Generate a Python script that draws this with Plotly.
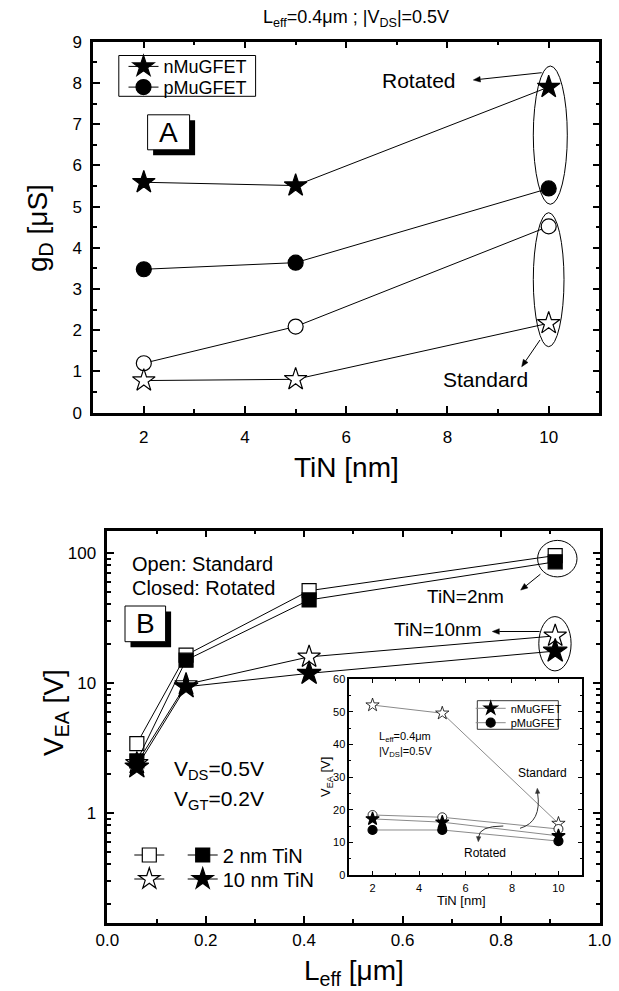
import math
import plotly.graph_objects as go

W, H = 619, 991
FONT = "Liberation Sans, Arial, Helvetica, sans-serif"


def px(x):
    return x / W


def py(y):
    return 1 - y / H


# ---------------- Panel A data (gD vs TiN) ----------------
tin = [2, 5, 10]
gd_n_rot = [5.59, 5.51, 7.90]   # nMuGFET rotated (closed star)
gd_p_rot = [3.48, 3.64, 5.44]   # pMuGFET rotated (closed circle)
gd_p_std = [1.20, 2.09, 4.52]   # pMuGFET standard (open circle)
gd_n_std = [0.78, 0.81, 2.17]   # nMuGFET standard (open star)

# ---------------- Panel B data (VEA vs Leff) ----------------
leff = [0.06, 0.16, 0.41, 0.91]
vea_2nm_std = [3.4, 16.3, 51.0, 95.0]
vea_2nm_rot = [2.5, 14.9, 43.3, 85.0]
vea_10nm_std = [2.4, 9.7, 15.8, 22.9]
vea_10nm_rot = [2.25, 9.3, 11.8, 17.5]

# ---------------- Inset data (VEA vs TiN) ----------------
tin_in = [2, 5, 10]
vin_n_std = [52.1, 49.6, 15.8]
vin_p_std = [18.4, 17.7, 14.1]
vin_n_rot = [17.2, 16.2, 12.0]
vin_p_rot = [13.8, 13.8, 10.4]

fig = go.Figure()


def tr(x, y, sym, size, filled, xa, ya, name=" ", legend="legend", showlegend=False,
       lcolor="black", lw=1, mlw=1.2):
    fig.add_trace(go.Scatter(
        x=x, y=y, mode="lines+markers", name=name, legend=legend, showlegend=showlegend,
        xaxis=xa, yaxis=ya,
        line=dict(color=lcolor, width=lw),
        marker=dict(symbol=sym, size=size, color="black" if filled else "white",
                    line=dict(color="black", width=mlw)),
    ))


# Panel A
tr(tin, gd_n_rot, "star", 17, True, "x", "y", "nMuGFET", "legend", True)
tr(tin, gd_p_rot, "circle", 15, True, "x", "y", "pMuGFET", "legend5", True)
tr(tin, gd_p_std, "circle", 15, False, "x", "y")
tr(tin, gd_n_std, "star", 17, False, "x", "y")

# Panel B
tr(leff, vea_2nm_std, "square", 14, False, "x2", "y2", " ", "legend2", True)
tr(leff, vea_10nm_std, "star", 17, False, "x2", "y2", " ", "legend6", True)
tr(leff, vea_2nm_rot, "square", 14, True, "x2", "y2", "2 nm TiN", "legend3", True)
tr(leff, vea_10nm_rot, "star", 18, True, "x2", "y2", "10 nm TiN", "legend7", True)

# Inset
GR = "#8a8a8a"
tr(tin_in, vin_n_std, "star", 10, False, "x3", "y3", lcolor=GR, mlw=0.8)
tr(tin_in, vin_p_std, "circle", 9, False, "x3", "y3", lcolor=GR, mlw=0.8)
tr(tin_in, vin_n_rot, "star", 10, True, "x3", "y3", "nMuGFET", "legend4", True, lcolor=GR)
tr(tin_in, vin_p_rot, "circle", 9, True, "x3", "y3", "pMuGFET", "legend8", True, lcolor=GR)


def axis(domain, rng, dtick, minor, anchor, lw=2.5, tl=7, mtl=4, fs=17, so=0, **kw):
    d = dict(domain=domain, range=rng, dtick=dtick, anchor=anchor,
             ticks="inside", ticklen=tl, tickwidth=lw * 0.7, tickcolor="black",
             mirror="allticks", showline=True, linewidth=lw, linecolor="black",
             showgrid=False, zeroline=False, automargin=False, ticklabelstandoff=so,
             tickfont=dict(family=FONT, size=fs, color="black"),
             minor=dict(dtick=minor, ticks="inside", ticklen=mtl, tickcolor="black",
                        tickwidth=lw * 0.6, showgrid=False))
    d.update(kw)
    return d


def leg(sym_x, row_y, fs):
    h = max(1.3 * fs, 16) + 3
    return dict(x=px(sym_x - 20), y=py(row_y - 5 - h / 2), xanchor="left", yanchor="top",
                bgcolor="rgba(0,0,0,0)", borderwidth=0,
                font=dict(family=FONT, size=fs, color="black"))


layout = dict(
    width=W, height=H,
    margin=dict(l=0, r=0, t=0, b=0, autoexpand=False),
    paper_bgcolor="white", plot_bgcolor="white",
    font=dict(family=FONT, color="black"),
    xaxis=axis([px(93.2), px(599.3)], [1, 11], 2, 1, "y", tick0=0, so=7),
    yaxis=axis([py(412.7), py(41.7)], [0, 9], 1, 0.5, "x", so=5),
    xaxis2=axis([px(107.3), px(599.5)], [0, 1], 0.2, 0.1, "y2", tick0=0, tickformat=".1f"),
    yaxis2=axis([py(922.7), py(530.7)], [-0.846, 2.169], 1, "D1", "x2", type="log", so=5),
    xaxis3=axis([px(349.3), px(581.7)], [1, 11], 2, 1, "y3", lw=1.5, tl=4, mtl=2, fs=11,
                tick0=0, so=2),
    yaxis3=axis([py(875), py(679.3)], [0, 60], 10, 5, "x3", lw=1.5, tl=4, mtl=2, fs=11),
    # panel A legend (two rows, framed by a rectangle)
    legend=leg(143.5, 66.4, 18),
    legend5=leg(143.5, 87.1, 18),
    # panel B legend: open symbol column and closed symbol + label column
    legend2=leg(149.3, 855, 20),
    legend3=leg(202.7, 855, 20),
    legend6=leg(149.3, 879, 20),
    legend7=leg(202.7, 879, 20),
    # inset legend
    legend4=leg(490.7, 708.3, 11),
    legend8=leg(490.7, 722.7, 11),
)
fig.update_layout(**layout)

annotations = []
shapes = []


def text(t, x, y, size, xanchor="center", yanchor="middle", angle=0):
    annotations.append(dict(text=t, x=px(x), y=py(y), xref="paper", yref="paper",
                            xanchor=xanchor, yanchor=yanchor, showarrow=False,
                            textangle=angle, font=dict(family=FONT, size=size, color="black")))


def arrow(tail, head, width=1, hl=7.0, hw=2.8, color="black"):
    dx, dy = head[0] - tail[0], head[1] - tail[1]
    n = math.hypot(dx, dy)
    ux, uy = dx / n, dy / n
    bx, by = head[0] - ux * hl, head[1] - uy * hl
    nx, ny = -uy, ux
    shapes.append(dict(type="line", xref="paper", yref="paper",
                       x0=px(tail[0]), y0=py(tail[1]), x1=px(bx), y1=py(by),
                       line=dict(color=color, width=width), layer="above"))
    p1 = (bx + nx * hw, by + ny * hw)
    p2 = (bx - nx * hw, by - ny * hw)
    shapes.append(dict(type="path", xref="paper", yref="paper",
                       path=(f"M {px(head[0])},{py(head[1])} L {px(p1[0])},{py(p1[1])} "
                             f"L {px(p2[0])},{py(p2[1])} Z"),
                       fillcolor=color, line=dict(color=color, width=0.5), layer="above"))


# titles
text("L<sub>eff</sub>=0.4μm ; |V<sub>DS</sub>|=0.5V", 355.7, 19, 18)
text("TiN [nm]", 346, 467, 28)
text("g<sub>D</sub> [μS]", 39, 228, 28, angle=-90)
text("L<sub>eff</sub> [μm]", 354, 972, 28)
text("V<sub>EA</sub> [V]", 55, 713, 28, angle=-90)

# panel A annotations
text("Rotated", 418.7, 80.4, 21)
text("Standard", 486, 379.8, 21)
arrow((541.7, 72.7), (473.3, 80))
arrow((540, 340), (521.7, 366.7))
text("A", 168.6, 132.3, 28)

# panel B annotations
text("Open: Standard", 130, 564, 20, xanchor="left")
text("Closed: Rotated", 130, 588, 20, xanchor="left")
text("B", 145.3, 623.8, 28)
text("TiN=2nm", 465.8, 596, 19)
text("TiN=10nm", 437, 629, 19)
arrow((540.4, 574.2), (520.7, 590.1))
arrow((539.6, 631.5), (492.3, 631.5))
text("V<sub>DS</sub>=0.5V", 171.7, 770, 21, xanchor="left")
text("V<sub>GT</sub>=0.2V", 171.7, 800, 21, xanchor="left")

# inset annotations
text("L<sub>eff</sub>=0.4μm", 376.7, 737, 11, xanchor="left")
text("|V<sub>DS</sub>|=0.5V", 376.7, 752, 11, xanchor="left")
text("Standard", 542.7, 772.7, 12)
text("Rotated", 485, 852.7, 12)
text("TiN [nm]", 461, 900, 13)
text("V<sub>EA</sub> [V]", 326, 777, 13, angle=-90)
arrow((537.6, 793), (537.3, 788.3), width=1, hl=5, hw=2.2, color="#333333")
arrow((478.6, 837), (478.3, 841.7), width=1, hl=5, hw=2.2, color="#333333")

fig.update_layout(annotations=annotations)


def rect(x0, y0, x1, y1, fill, lw=1, layer="above"):
    shapes.append(dict(type="rect", xref="paper", yref="paper",
                       x0=px(x0), y0=py(y0), x1=px(x1), y1=py(y1),
                       fillcolor=fill, line=dict(color="black", width=lw), layer=layer))


def ellipse(x0, y0, x1, y1):
    shapes.append(dict(type="circle", xref="paper", yref="paper",
                       x0=px(x0), y0=py(y0), x1=px(x1), y1=py(y1),
                       line=dict(color="black", width=1), layer="above"))


def curve(p0, c, p1):
    shapes.append(dict(type="path", xref="paper", yref="paper",
                       path=f"M {px(p0[0])},{py(p0[1])} Q {px(c[0])},{py(c[1])} {px(p1[0])},{py(p1[1])}",
                       line=dict(color="#333333", width=1), layer="above"))


# legend frames
rect(118.8, 55.5, 255.6, 96.3, "white", 1)
rect(477.3, 700.7, 558.3, 729.3, "white", 0.8)
# A box with shadow
rect(153.1, 120.3, 195.1, 155.3, "black", 0)
rect(147.6, 114.8, 189.6, 149.8, "white", 1)
# B box with shadow
rect(130.5, 611.5, 171.1, 647.2, "black", 0)
rect(125, 606, 165.6, 641.7, "white", 1)
# ellipses
ellipse(533.3, 66, 567.3, 204.3)
ellipse(533.3, 212.7, 564, 346.7)
ellipse(537.6, 540.4, 577, 576.9)
ellipse(538.8, 616.6, 571.1, 670.9)
# inset curved arrows
curve((520, 828.3), (542, 822), (537.6, 793))
curve((503.3, 826), (479, 826), (478.6, 837))

fig.update_layout(shapes=shapes)

fig.write_html("out.html", config={"displayModeBar": False},
               post_script="document.body.style.margin='0';")
